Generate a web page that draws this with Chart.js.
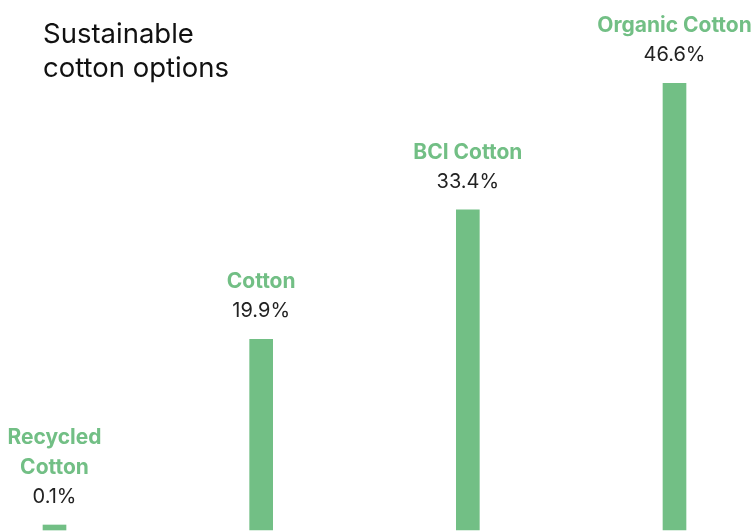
<!DOCTYPE html>
<html>
<head>
<meta charset="utf-8">
<script src="https://cdn.jsdelivr.net/npm/chart.js@4"></script>
<style>
  html, body { margin: 0; padding: 0; background: #fff; }
  #wrap { width: 754px; height: 532px; }
</style>
</head>
<body>
<div id="wrap"><canvas id="chart"></canvas></div>
<script>
const categories = [["Recycled", "Cotton"], ["Cotton"], ["BCI Cotton"], ["Organic Cotton"]];
const shares = [0.1, 19.9, 33.4, 46.6];
const titleLines = ["Sustainable", "cotton options"];

const green = "#72bf85";
const dark = "#222222";

// draws the title and the name / value labels above each bar
const barLabels = {
  id: "barLabels",
  afterDatasetsDraw(chart) {
    const ctx = chart.ctx;
    ctx.save();
    ctx.textBaseline = "alphabetic";

    ctx.fillStyle = "#111";
    ctx.textAlign = "left";
    ctx.font = "27.5px Inter";
    titleLines.forEach((line, i) => ctx.fillText(line, 43, 43 + i * 34));

    ctx.textAlign = "center";
    chart.getDatasetMeta(0).data.forEach((bar, i) => {
      const valueY = bar.y - 22;
      ctx.fillStyle = dark;
      ctx.font = "20px Inter";
      ctx.fillText(shares[i].toFixed(1) + "%", bar.x, valueY);

      const lines = categories[i];
      ctx.fillStyle = green;
      ctx.font = "bold 21px Inter";
      lines.forEach((line, j) => {
        const y = valueY - 29 - (lines.length - 1 - j) * 30;
        ctx.fillText(line, bar.x, y);
      });
    });
    ctx.restore();
  },
};

new Chart(document.getElementById("chart"), {
  type: "bar",
  data: {
    labels: categories,
    datasets: [
      {
        data: shares,
        backgroundColor: green,
        barThickness: 23,
        minBarLength: 5,
        borderWidth: 0,
        clip: false,
      },
    ],
  },
  options: {
    responsive: true,
    maintainAspectRatio: false,
    animation: false,
    layout: { padding: { left: 54.5, right: 79.5, top: 0, bottom: 2 } },
    plugins: { legend: { display: false }, tooltip: { enabled: false } },
    scales: {
      x: { display: false, offset: false, grid: { display: false } },
      y: { display: false, min: 0, max: 55.3 },
    },
  },
  plugins: [barLabels],
});
</script>
</body>
</html>
